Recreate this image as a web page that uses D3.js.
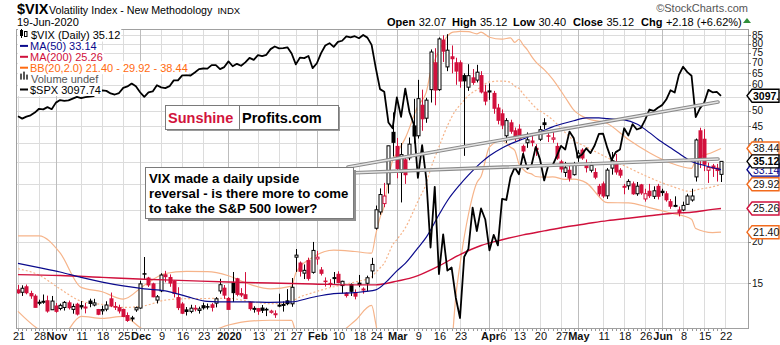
<!DOCTYPE html>
<html>
<head>
<meta charset="utf-8">
<script src="https://cdn.jsdelivr.net/npm/d3@7/dist/d3.min.js"></script>
<style>
html,body{margin:0;padding:0;background:#fff;}
svg{display:block;}
text{font-family:"Liberation Sans",Arial,Helvetica,sans-serif;}
</style>
</head>
<body>
<svg id="chart" width="780" height="345"></svg>
<script>
// ---------- trading days (one entry per candle) ----------
const dates = [
"2019-10-21","2019-10-22","2019-10-23","2019-10-24","2019-10-25","2019-10-28","2019-10-29","2019-10-30","2019-10-31",
"2019-11-01","2019-11-04","2019-11-05","2019-11-06","2019-11-07","2019-11-08","2019-11-11","2019-11-12","2019-11-13","2019-11-14","2019-11-15",
"2019-11-18","2019-11-19","2019-11-20","2019-11-21","2019-11-22","2019-11-25","2019-11-26","2019-11-27","2019-11-29",
"2019-12-02","2019-12-03","2019-12-04","2019-12-05","2019-12-06","2019-12-09","2019-12-10","2019-12-11","2019-12-12","2019-12-13",
"2019-12-16","2019-12-17","2019-12-18","2019-12-19","2019-12-20","2019-12-23","2019-12-24","2019-12-26","2019-12-27","2019-12-30","2019-12-31",
"2020-01-02","2020-01-03","2020-01-06","2020-01-07","2020-01-08","2020-01-09","2020-01-10","2020-01-13","2020-01-14","2020-01-15","2020-01-16","2020-01-17",
"2020-01-21","2020-01-22","2020-01-23","2020-01-24","2020-01-27","2020-01-28","2020-01-29","2020-01-30","2020-01-31",
"2020-02-03","2020-02-04","2020-02-05","2020-02-06","2020-02-07","2020-02-10","2020-02-11","2020-02-12","2020-02-13","2020-02-14",
"2020-02-18","2020-02-19","2020-02-20","2020-02-21","2020-02-24","2020-02-25","2020-02-26","2020-02-27","2020-02-28",
"2020-03-02","2020-03-03","2020-03-04","2020-03-05","2020-03-06","2020-03-09","2020-03-10","2020-03-11","2020-03-12","2020-03-13",
"2020-03-16","2020-03-17","2020-03-18","2020-03-19","2020-03-20","2020-03-23","2020-03-24","2020-03-25","2020-03-26","2020-03-27","2020-03-30","2020-03-31",
"2020-04-01","2020-04-02","2020-04-03","2020-04-06","2020-04-07","2020-04-08","2020-04-09","2020-04-13","2020-04-14","2020-04-15","2020-04-16","2020-04-17",
"2020-04-20","2020-04-21","2020-04-22","2020-04-23","2020-04-24","2020-04-27","2020-04-28","2020-04-29","2020-04-30",
"2020-05-01","2020-05-04","2020-05-05","2020-05-06","2020-05-07","2020-05-08","2020-05-11","2020-05-12","2020-05-13","2020-05-14","2020-05-15",
"2020-05-18","2020-05-19","2020-05-20","2020-05-21","2020-05-22","2020-05-26","2020-05-27","2020-05-28","2020-05-29",
"2020-06-01","2020-06-02","2020-06-03","2020-06-04","2020-06-05","2020-06-08","2020-06-09","2020-06-10","2020-06-11","2020-06-12",
"2020-06-15","2020-06-16","2020-06-17","2020-06-18","2020-06-19"];

// ---------- $VIX daily candles ----------
const prevCloseBefore = 14.25;
const vixOpen = [14.30,14.06,14.61,13.94,13.68,13.06,13.17,13.25,12.44,12.77,12.55,12.64,13.06,12.47,12.93,12.81,12.63,13.22,12.86,12.46,
12.35,12.49,13.43,12.73,12.63,12.47,11.95,11.70,12.43,12.59,16.01,15.53,14.91,13.31,14.20,15.89,15.59,15.18,13.55,12.95,
12.43,12.30,12.57,12.38,12.80,12.72,12.88,13.03,14.19,14.47,13.46,15.01,15.45,13.93,13.82,13.11,12.53,12.54,12.59,12.48,
12.22,12.08,12.82,12.86,13.24,12.97,17.97,17.25,16.07,17.55,16.16,17.75,16.43,15.20,14.88,15.58,15.94,14.73,13.97,14.84,
14.04,14.99,14.30,14.97,16.32,22.00,24.65,26.14,29.98,43.03,39.00,32.50,35.50,36.00,45.00,42.00,52.00,47.50,58.00,70.00,
58.00,82.00,68.00,73.00,70.00,70.00,64.00,59.00,63.00,62.00,64.00,57.00,57.50,56.50,51.00,49.00,42.00,46.00,43.50,44.00,
39.00,40.00,40.50,38.50,41.00,46.00,42.00,41.00,39.00,35.00,32.50,33.00,32.00,36.00,38.00,34.50,33.00,32.50,29.50,30.00,
27.60,33.50,35.00,33.00,29.50,29.60,30.00,28.00,29.80,27.00,28.50,27.50,29.50,28.50,28.00,26.50,25.80,25.00,25.00,26.00,
26.80,31.50,43.50,41.00,33.00,34.00,33.50,32.07];
const vixHigh = [14.80,14.76,14.84,14.21,13.86,13.35,13.84,13.73,13.70,13.04,12.99,13.22,13.27,12.98,13.06,13.22,13.04,13.44,13.43,12.51,
12.80,13.20,14.03,13.13,12.89,12.53,12.21,11.92,12.72,15.24,17.99,15.66,15.03,13.79,16.06,16.33,15.93,15.27,14.56,13.12,
12.68,12.88,12.85,12.71,13.07,12.99,13.05,13.59,15.45,14.79,13.60,16.20,15.55,14.47,16.19,13.18,12.75,12.58,12.86,12.62,
12.44,12.39,13.92,13.18,14.37,15.53,19.02,17.44,17.08,17.91,19.99,18.78,16.77,15.60,15.41,16.20,16.28,15.24,14.07,14.95,
14.34,15.87,14.55,15.79,17.89,25.79,29.07,30.21,39.16,49.48,41.37,39.93,36.60,41.50,54.39,62.12,58.00,54.80,76.83,77.50,
83.56,84.83,85.47,79.00,72.50,71.20,65.00,69.30,67.00,69.00,66.00,60.00,60.60,57.50,52.50,50.50,47.50,47.00,44.50,45.50,
39.50,43.00,42.70,39.60,45.00,47.50,43.00,43.70,40.00,35.50,35.00,34.00,35.00,38.00,38.50,35.60,35.00,33.50,30.00,30.50,
33.50,37.50,37.00,33.50,30.00,31.00,30.50,30.40,30.00,29.00,30.00,29.50,30.00,29.00,28.50,27.00,27.50,25.60,26.50,28.00,
29.00,41.20,44.44,44.00,34.80,34.50,34.50,35.12];
const vixLow = [13.91,13.70,13.86,13.43,12.64,12.83,12.97,12.19,12.42,12.18,12.39,12.37,12.46,12.10,11.95,12.47,12.13,12.66,12.74,11.98,
12.02,12.31,12.67,12.42,12.12,11.81,11.43,11.46,12.26,12.53,15.44,14.59,13.58,13.00,14.07,15.07,14.61,13.56,12.41,12.07,
11.95,12.14,12.30,12.11,12.45,12.47,12.29,12.65,13.92,13.42,12.44,13.13,13.67,13.59,13.45,12.37,12.19,12.01,12.16,11.90,
12.11,11.75,12.66,12.28,12.84,12.70,16.21,15.69,15.42,15.25,16.01,17.05,15.81,14.63,14.59,14.92,14.97,13.94,13.55,13.70,
13.38,14.57,13.92,14.16,15.50,21.79,24.18,25.49,28.05,36.34,31.20,26.35,30.00,35.40,39.80,41.20,43.50,46.00,53.00,52.00,
57.50,70.40,66.00,65.00,60.00,58.80,36.50,57.50,60.00,61.00,56.50,52.00,54.00,49.00,45.50,44.00,40.00,42.60,40.50,40.50,
36.70,38.60,39.00,36.50,40.50,44.00,40.20,40.00,35.50,32.50,31.50,30.50,31.80,35.00,35.50,32.50,32.50,31.00,27.50,27.20,
27.00,32.00,32.00,31.30,27.90,28.80,27.80,27.60,27.80,26.50,27.20,27.00,26.90,27.60,26.50,25.20,25.50,23.90,24.80,25.90,
26.50,30.50,33.50,32.80,30.20,31.50,30.50,30.40];
const vixClose = [14.00,14.46,14.01,13.71,12.65,13.11,13.20,12.33,13.22,12.30,12.83,13.10,12.62,12.73,12.07,12.69,12.68,13.00,13.05,12.05,
12.46,12.86,12.78,12.66,12.34,11.87,11.54,11.75,12.62,14.91,15.96,14.80,13.62,13.62,15.86,15.68,14.99,13.94,12.63,12.14,
12.29,12.58,12.50,12.51,12.61,12.67,12.65,13.43,14.82,13.78,12.47,14.02,13.85,13.79,13.45,12.54,12.56,12.32,12.39,12.42,
12.32,12.10,12.85,12.91,12.98,14.56,18.23,16.28,16.39,15.49,18.84,17.97,16.05,15.15,14.96,15.47,15.04,15.18,13.74,14.15,
13.68,14.83,14.38,15.56,17.08,25.03,27.85,27.56,39.16,40.11,33.42,36.82,31.99,39.62,41.94,54.46,47.30,53.90,75.47,57.83,
82.69,75.91,76.45,72.00,66.04,61.59,61.67,63.95,61.00,65.54,57.08,53.54,57.06,50.91,46.80,45.24,46.70,43.35,41.67,41.17,
37.76,40.84,40.11,38.15,43.83,45.41,41.98,41.38,35.93,33.29,33.57,31.23,34.15,37.19,35.97,33.61,34.12,31.44,27.98,27.57,
33.04,35.28,32.61,31.89,29.30,30.53,27.99,29.53,28.16,28.01,27.62,28.59,27.51,28.23,26.84,25.66,25.81,24.52,25.81,27.57,
27.57,40.79,36.09,34.40,33.67,33.47,32.94,35.12];

// ---------- $SPX overlay (daily close) ----------
const spxClose = [3006.72,2995.99,3004.52,3010.29,3022.55,3039.42,3036.89,3046.77,3037.56,3066.91,3078.27,3074.62,3076.78,3085.18,3093.08,
3087.01,3091.84,3094.04,3096.63,3120.46,3122.03,3120.18,3108.46,3103.54,3110.29,3133.64,3140.52,3153.63,3140.98,
3113.87,3093.20,3112.76,3117.43,3145.91,3135.96,3132.52,3141.63,3168.57,3168.80,3191.45,3192.52,3191.14,3205.37,3221.22,
3224.01,3223.38,3239.91,3240.02,3221.29,3230.78,3257.85,3234.85,3246.28,3237.18,3253.05,3274.70,3265.35,3288.13,3283.15,
3289.29,3316.81,3329.62,3320.79,3321.75,3325.54,3295.47,3243.63,3276.24,3273.40,3283.66,3225.52,3248.92,3297.59,3334.69,
3345.78,3327.71,3352.09,3357.75,3379.45,3373.94,3380.16,3370.29,3386.15,3373.23,3337.75,3225.89,3128.21,3116.39,2978.76,
2954.22,3090.23,3003.37,3130.12,3023.94,2972.37,2746.56,2882.23,2741.38,2480.64,2711.02,2386.13,2529.19,2398.10,2409.39,
2304.92,2237.40,2447.33,2475.56,2630.07,2541.47,2626.65,2584.59,2470.50,2526.90,2488.65,2663.68,2659.41,2749.98,2789.82,
2761.63,2846.06,2783.36,2799.55,2874.56,2823.16,2736.56,2799.31,2797.80,2836.74,2878.48,2863.39,2939.51,2912.43,2830.71,
2842.74,2868.44,2848.42,2881.19,2929.80,2930.19,2870.12,2820.00,2852.50,2863.70,2953.91,2922.94,2971.61,2948.51,2955.45,
2991.77,3036.13,3029.73,3044.31,3055.73,3080.82,3122.87,3112.35,3193.93,3232.39,3207.18,3190.14,3002.10,3041.31,3066.59,
3124.74,3113.49,3115.34,3097.74];

// ---------- indicator overlays, sampled at trading-day index ----------
const ma50Idx = [0,5,10,15,20,25,30,35,40,45,50,55,60,65,70,75,80,85,88,90,92,95,97,100,102,105,107,110,112,115,117,120,122,125,127,130,132,135,138,140,144,147,150,152,155,158,160,162,165,167];
const ma50Val = [17.2,16.7,16.2,15.6,15.1,14.7,14.4,14.2,13.66,13.19,13.14,13.14,13.10,13.14,13.58,13.93,14.03,14.29,15.35,16.33,17.21,19.17,20.68,24.17,26.66,29.86,31.88,34.81,36.52,38.57,39.68,41.08,42.02,43.65,44.71,45.94,46.66,47.64,47.62,47.36,46.94,45.59,42.94,41.02,38.64,36.43,35.08,34.41,33.58,33.14];

const ma200Idx = [0,10,20,30,40,50,60,70,80,85,88,90,93,95,100,105,110,115,120,125,130,135,140,145,150,155,160,165,167];
const ma200Val = [15.9,15.8,15.6,15.4,15.25,15.1,15.0,14.9,14.8,14.8,15.0,15.2,15.5,15.8,16.9,18.3,19.5,20.3,21.0,21.6,22.2,22.7,23.2,23.6,24.0,24.4,24.6,25.1,25.26];

const bbIdx = [0,5,10,15,20,25,30,35,40,45,50,55,60,65,66,70,75,80,84,85,86,87,88,89,90,92,95,97,98,100,102,103,104,105,107,109,110,112,115,117,118,119,120,121,122,123,125,127,130,132,135,140,145,150,155,160,161,165,167];
const bbUpper = [20.86,20.87,18.51,14.55,14.11,13.40,14.77,16.03,16.26,16.24,15.78,14.87,14.40,14.67,16.09,17.95,18.89,18.70,18.48,21.10,23.72,25.72,31.14,35.41,37.24,41.32,51.72,57.01,65.64,75.97,84.38,86.41,86.92,87.13,87.02,85.70,86.74,83.67,82.56,83.32,80.75,82.50,79.31,76.62,73.22,70.43,66.73,62.46,54.91,50.33,47.50,45.78,40.92,37.30,34.72,33.46,35.51,37.45,38.44];
const bbMid = [16.58,15.85,14.39,13.21,12.91,12.64,12.79,13.31,13.44,13.46,13.48,13.18,12.98,13.11,13.39,14.01,14.61,15.10,15.65,16.18,16.66,17.22,18.36,19.59,20.32,22.06,26.58,30.13,33.22,38.85,45.00,47.83,50.28,52.11,55.62,57.98,59.16,61.25,61.60,61.04,59.35,58.52,56.27,54.52,52.70,51.01,49.09,46.98,42.93,40.67,38.86,36.04,33.60,31.36,29.60,28.45,28.73,29.39,29.92];
const bbLower = [12.30,10.83,10.27,11.87,11.71,11.88,10.81,10.59,10.62,10.68,11.18,11.49,11.56,11.55,10.69,10.07,10.33,11.50,12.82,11.26,9.60,8.72,5.58,3.77,3.40,2.80,1.44,3.25,0.80,1.73,5.62,9.25,13.64,17.09,24.22,30.26,31.58,38.83,40.64,38.76,37.95,34.54,33.23,32.42,32.18,31.59,31.45,31.50,30.95,31.01,30.22,26.30,26.28,25.42,24.48,23.44,21.95,21.33,21.40];

// ---------- axis ticks ----------
const tickIdx = [0,5,9,15,20,25,29,34,39,44,50,57,62,66,71,76,81,85,90,95,100,105,112,115,119,124,129,133,139,144,149,153,158,163,168];
const tickLabels = ["21","28","Nov","11","18","25","Dec","9","16","23","2020","13","21","27","Feb","10","18","24","Mar","9","16","23","Apr","6","13","20","27","May","11","18","26","Jun","8","15","22"];
const monthLabels = ["Nov","Dec","2020","Feb","Mar","Apr","May","Jun"];
const yTicks = [15,20,25,30,35,40,45,50,55,60,65,70,75,80,85];
const yTickLabels = [15,20,40,45,50,60,65,70,75,80,85];

// ---------- layout ----------
const W = 780, H = 345;
const plot = {left:16, right:748, top:29, bottom:328};
const RED = "#d2103c", NAVY = "#0a0a8c", MA200C = "#d0103c", BBC = "#f6b48a", BBTAG = "#f26b1d";

const svg = d3.select("#chart");
const x = d3.scaleLinear().domain([0, dates.length - 1]).range([18, 721]);
const y = d3.scaleLog().domain([15, 85]).range([283, 35]);
const ySpx = d3.scaleLog().domain([d3.min(spxClose), d3.max(spxClose)]).range([318, 35]);

svg.append("defs").append("clipPath").attr("id","plotClip")
  .append("rect").attr("x",plot.left).attr("y",plot.top)
  .attr("width",plot.right-plot.left).attr("height",plot.bottom-plot.top);

// grid
const grid = svg.append("g").attr("shape-rendering","crispEdges");
grid.selectAll("line.h").data(yTicks).join("line")
  .attr("x1",plot.left).attr("x2",plot.right)
  .attr("y1",d=>Math.round(y(d))+0.5).attr("y2",d=>Math.round(y(d))+0.5)
  .attr("stroke","#dcdcdc");
grid.selectAll("line.v").data(tickIdx).join("line")
  .attr("x1",d=>Math.round(x(d))+0.5).attr("x2",d=>Math.round(x(d))+0.5)
  .attr("y1",plot.top).attr("y2",plot.bottom)
  .attr("stroke",(d,i)=>monthLabels.includes(tickLabels[i]) ? "#bdbdbd" : "#dcdcdc");

const body = svg.append("g").attr("clip-path","url(#plotClip)");

// Bollinger bands
const pts = (idx, vals) => idx.map((d,i)=>[d, vals[i]]);
const lineGen = d3.line().x(d=>x(d[0])).y(d=>y(d[1])).curve(d3.curveMonotoneX);
body.append("path").attr("d", lineGen(pts(bbIdx,bbUpper))).attr("fill","none").attr("stroke",BBC).attr("stroke-width",1.2);
body.append("path").attr("d", lineGen(pts(bbIdx,bbLower))).attr("fill","none").attr("stroke",BBC).attr("stroke-width",1.2);
body.append("path").attr("d", lineGen(pts(bbIdx,bbMid))).attr("fill","none").attr("stroke",BBC).attr("stroke-width",1.2).attr("stroke-dasharray","2,2");

// candles
const candles = body.append("g");
vixClose.forEach((c,i)=>{
  const prev = i === 0 ? prevCloseBefore : vixClose[i-1];
  const col = c >= prev ? "#000" : RED;
  const o = vixOpen[i];
  const cx = Math.round(x(i)) + 0.5;
  candles.append("line").attr("x1",cx).attr("x2",cx)
    .attr("y1",y(vixHigh[i])).attr("y2",y(vixLow[i])).attr("stroke",col).attr("stroke-width",1);
  const top = y(Math.max(o,c)), bot = y(Math.min(o,c));
  if (c > o) {
    candles.append("rect").attr("x",cx-1.5).attr("y",top).attr("width",3).attr("height",Math.max(bot-top,1))
      .attr("fill","#fff").attr("stroke",col).attr("stroke-width",1);
  } else {
    candles.append("rect").attr("x",cx-2).attr("y",top-0.5).attr("width",4).attr("height",Math.max(bot-top+1,1.5))
      .attr("fill",col);
  }
});

// moving averages
body.append("path").attr("d", lineGen(pts(ma200Idx,ma200Val))).attr("fill","none").attr("stroke",MA200C).attr("stroke-width",1.4);
body.append("path").attr("d", lineGen(pts(ma50Idx,ma50Val))).attr("fill","none").attr("stroke",NAVY).attr("stroke-width",1.2);

// SPX overlay
body.append("path")
  .attr("d", d3.line().x((d,i)=>x(i)).y(d=>ySpx(d))(spxClose))
  .attr("fill","none").attr("stroke","#000").attr("stroke-width",1.8).attr("stroke-linejoin","round");

// frame
svg.append("rect").attr("x",plot.left+0.5).attr("y",plot.top+0.5)
  .attr("width",plot.right-plot.left).attr("height",plot.bottom-plot.top)
  .attr("fill","none").attr("stroke","#a0a0a0").attr("shape-rendering","crispEdges");

// daily tick marks under the date axis
svg.append("g").selectAll("line").data(dates).join("line")
  .attr("x1",(d,i)=>Math.round(x(i))+0.5).attr("x2",(d,i)=>Math.round(x(i))+0.5)
  .attr("y1",plot.bottom+1).attr("y2",plot.bottom+3).attr("stroke","#999").attr("shape-rendering","crispEdges");

// date labels
svg.append("g").selectAll("text").data(tickIdx).join("text")
  .attr("x",d=>x(d)+1).attr("y",340).attr("text-anchor","middle")
  .attr("font-size",11)
  .attr("font-weight",(d,i)=>monthLabels.includes(tickLabels[i]) ? "bold" : "normal")
  .attr("fill","#111").text((d,i)=>tickLabels[i]);

// price axis labels
const yAxis = svg.append("g");
yAxis.selectAll("line").data(yTicks).join("line")
  .attr("x1",plot.right).attr("x2",plot.right+3)
  .attr("y1",d=>Math.round(y(d))+0.5).attr("y2",d=>Math.round(y(d))+0.5).attr("stroke","#888");
yAxis.selectAll("text").data(yTickLabels).join("text")
  .attr("x",plot.right+4).attr("y",d=>y(d)+3.6).attr("font-size",10).attr("fill","#111").text(d=>d);

// value tags on the price axis
const n = vixClose.length - 1;
function tag(yv, label, stroke, color, bold){
  const g = svg.append("g");
  g.append("path").attr("d",`M${plot.right-1},${yv} L${plot.right+4},${yv-6.5} L779,${yv-6.5} L779,${yv+6.5} L${plot.right+4},${yv+6.5} Z`)
    .attr("fill","#fff").attr("stroke",stroke).attr("stroke-width",1.4);
  g.append("text").attr("x",plot.right+5).attr("y",yv+4).attr("font-size",10.5)
    .attr("font-weight",bold?"bold":"normal").attr("fill",color).text(label);
}
tag(ySpx(spxClose[n]), spxClose[n].toFixed(1), "#000", "#000", true);
tag(y(bbUpper[bbUpper.length-1]), bbUpper[bbUpper.length-1].toFixed(2), BBTAG, "#111", false);
tag(y(bbMid[bbMid.length-1]), bbMid[bbMid.length-1].toFixed(2), BBTAG, "#111", false);
tag(y(bbLower[bbLower.length-1]), bbLower[bbLower.length-1].toFixed(2), BBTAG, "#111", false);
tag(y(ma200Val[ma200Val.length-1]), ma200Val[ma200Val.length-1].toFixed(2), MA200C, "#111", false);
tag(y(ma50Val[ma50Val.length-1]), ma50Val[ma50Val.length-1].toFixed(2), NAVY, NAVY, false);
tag(y(vixClose[n]), vixClose[n].toFixed(2), "#000", "#000", true);

// title block
svg.append("text").attr("x",17).attr("y",14).attr("font-size",14.5).attr("font-weight","bold").text("$VIX");
const sub = svg.append("text").attr("x",49).attr("y",13.5).attr("font-size",10.7).text("Volatility Index - New Methodology");
svg.append("text").attr("x",49 + sub.node().getComputedTextLength() + 5).attr("y",13.5).attr("font-size",9.5).text("INDX");
svg.append("text").attr("x",17).attr("y",26).attr("font-size",11).text("19-Jun-2020");
svg.append("text").attr("x",748).attr("y",12).attr("text-anchor","end").attr("font-size",11).attr("fill","#555").text("\u00A9StockCharts.com");

// OHLC header: bold label then its value
const chg = vixClose[n] - vixClose[n-1];
const hdr = [
  ["Open",387,vixOpen[n].toFixed(2)],
  ["High",452,vixHigh[n].toFixed(2)],
  ["Low",513,vixLow[n].toFixed(2)],
  ["Close",573,vixClose[n].toFixed(2)],
  ["Chg",641,(chg>=0?"+":"")+chg.toFixed(2)+" ("+(chg>=0?"+":"")+(chg/vixClose[n-1]*100).toFixed(2)+"%)"]
];
const hg = svg.append("g");
hdr.forEach(d=>{
  const lab = hg.append("text").attr("x",d[1]).attr("y",26).attr("font-size",11).attr("font-weight","bold").text(d[0]);
  hg.append("text").attr("x",d[1]+lab.node().getComputedTextLength()+3.5).attr("y",26).attr("font-size",11).text(d[2]);
});
svg.append("path").attr("d","M743,23 L747,18 L751,23 Z").attr("fill","#2f8f3a");

// legend
const legend = [
  {t:`$VIX (Daily) ${vixClose[n].toFixed(2)}`, c:"#000", icon:"candle"},
  {t:`MA(50) ${ma50Val[ma50Val.length-1].toFixed(2)}`, c:NAVY, icon:"line"},
  {t:`MA(200) ${ma200Val[ma200Val.length-1].toFixed(2)}`, c:MA200C, icon:"line"},
  {t:`BB(20,2.0) ${bbLower[bbLower.length-1].toFixed(2)} - ${bbMid[bbMid.length-1].toFixed(2)} - ${bbUpper[bbUpper.length-1].toFixed(2)}`, c:"#ff6a10", icon:"line"},
  {t:"Volume undef", c:"#555", icon:"bars"},
  {t:`$SPX ${spxClose[n].toFixed(2)}`, c:"#000", icon:"line"}
];
const lg = svg.append("g");
legend.forEach((d,i)=>{
  const yb = 39 + i*10.9;
  const tx = d.icon==="line" ? 30 : 31;
  const t = lg.append("text").attr("x",tx).attr("y",yb).attr("font-size",11).attr("fill",d.c).text(d.t);
  const bb = t.node().getBBox();
  lg.insert("rect","text").attr("x",18).attr("y",bb.y-0.5).attr("width",bb.x+bb.width-17).attr("height",bb.height+1).attr("fill","#fff");
  if (d.icon==="line") {
    lg.append("line").attr("x1",20).attr("x2",28).attr("y1",yb-4).attr("y2",yb-4).attr("stroke",d.c).attr("stroke-width",2);
  } else if (d.icon==="candle") {
    lg.append("rect").attr("x",20).attr("y",yb-9).attr("width",3).attr("height",6).attr("fill","#000");
    lg.append("rect").attr("x",24.5).attr("y",yb-7.5).attr("width",2.5).attr("height",5).attr("fill","#fff").attr("stroke","#000");
    lg.append("line").attr("x1",21.5).attr("x2",21.5).attr("y1",yb-10).attr("y2",yb-1).attr("stroke","#000");
  } else {
    [0,3,6].forEach((o,k)=>lg.append("rect").attr("x",20+o).attr("y",yb-3-[6,8,5][k]).attr("width",2).attr("height",[6,8,5][k]).attr("fill","#555"));
  }
});

// pointer lines from the callout
function pointer(x1,y1,x2,y2){
  svg.append("line").attr("x1",x1).attr("y1",y1).attr("x2",x2).attr("y2",y2).attr("stroke","#8a8a8a").attr("stroke-width",3.6).attr("stroke-linecap","round");
  svg.append("line").attr("x1",x1).attr("y1",y1).attr("x2",x2).attr("y2",y2).attr("stroke","#e4e4e4").attr("stroke-width",1.4).attr("stroke-linecap","round");
}
pointer(348,167,718,102);
pointer(348,173,718,159);

// Sunshine Profits badge
svg.append("rect").attr("x",167).attr("y",107).attr("width",173).attr("height",24).attr("fill","#9a9a9a");
svg.append("rect").attr("x",165.5).attr("y",105.5).attr("width",173).attr("height",24).attr("fill","#fff").attr("stroke","#7a7a7a");
svg.append("line").attr("x1",239.5).attr("x2",239.5).attr("y1",105.5).attr("y2",129.5).attr("stroke","#7a7a7a");
svg.append("text").attr("x",168).attr("y",122.5).attr("font-size",14.5).attr("font-weight","bold").attr("fill","#d2143c").text("Sunshine");
svg.append("text").attr("x",242).attr("y",122.5).attr("font-size",14.5).attr("font-weight","bold").attr("fill","#000").text("Profits.com");

// callout box
svg.append("rect").attr("x",148).attr("y",170).attr("width",208).attr("height",51).attr("fill","#8f8f8f");
svg.append("rect").attr("x",145.5).attr("y",167.5).attr("width",208).attr("height",51).attr("fill","#fff").attr("stroke","#7a7a7a");
["VIX made a daily upside","reversal - is there more to come","to take the S&P 500 lower?"].forEach((s,i)=>{
  svg.append("text").attr("x",149).attr("y",183+i*15).attr("font-size",13.2).attr("font-weight","bold").attr("fill","#000").text(s);
});
</script>
</body>
</html>
